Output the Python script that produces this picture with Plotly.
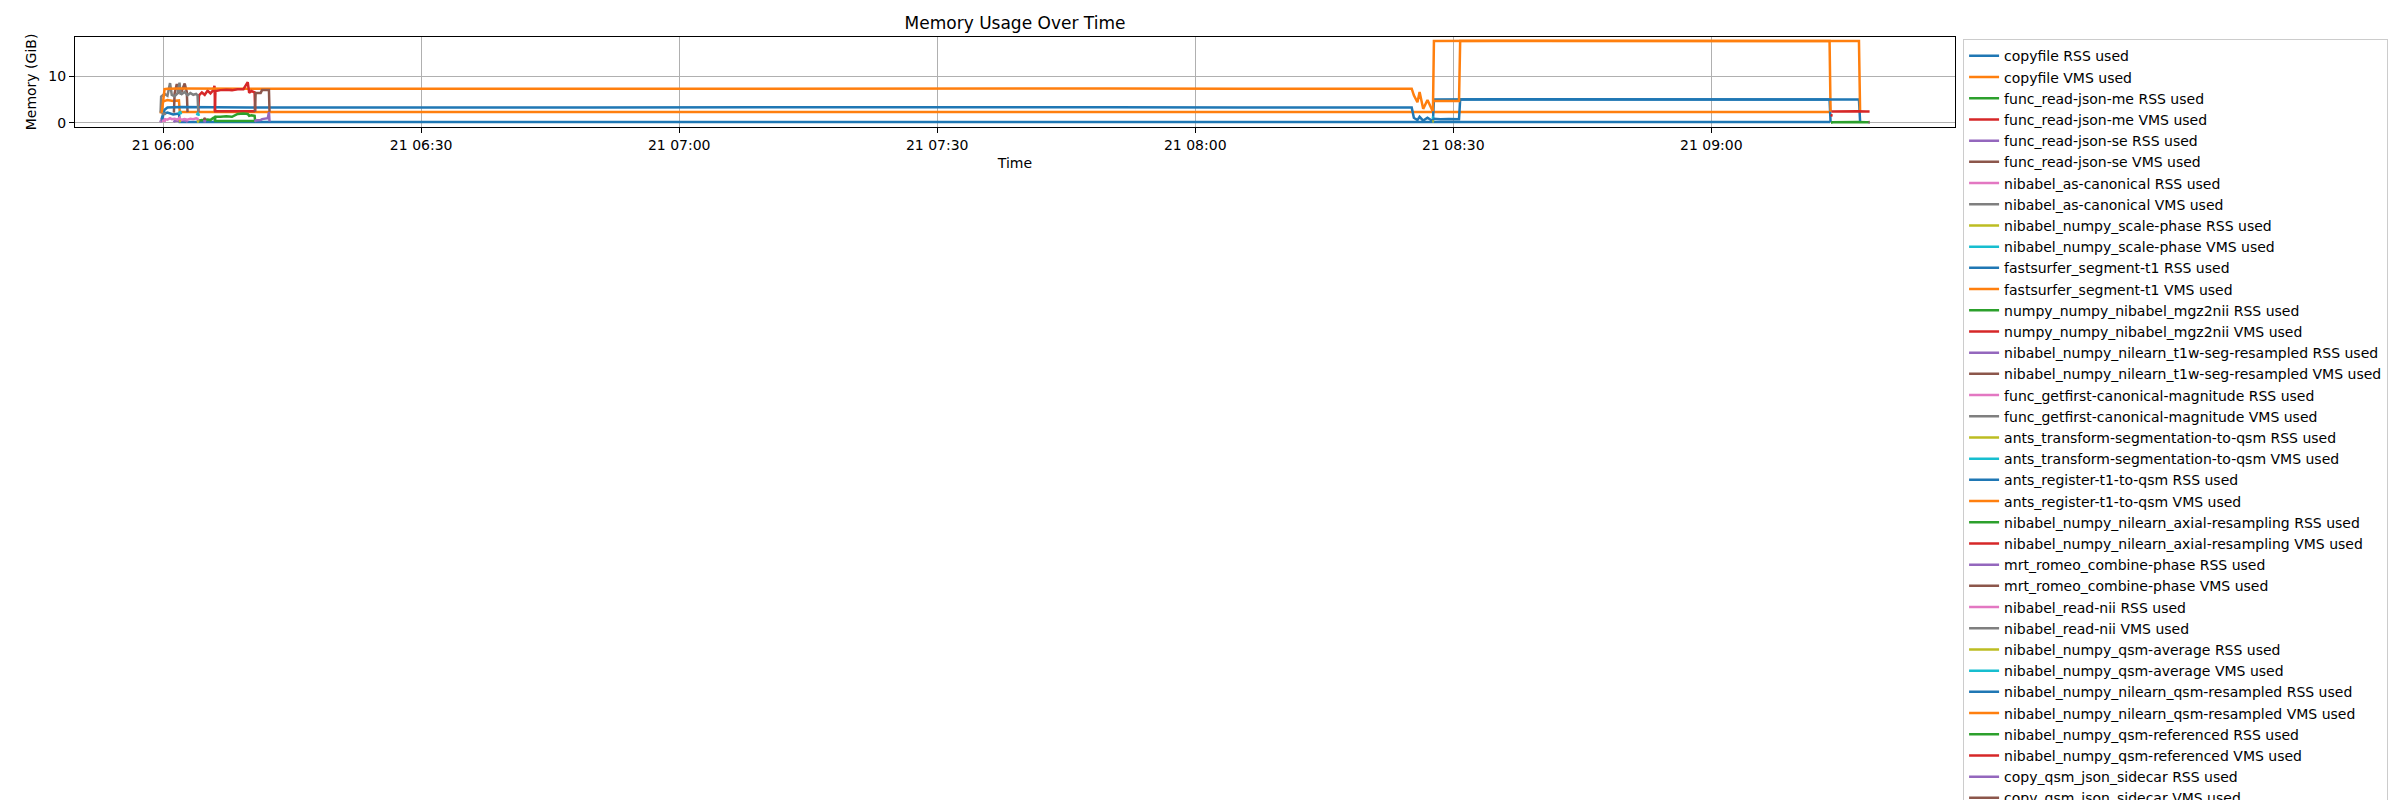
import plotly.graph_objects as go

day = "2023-11-21 "

# sample times and memory values (GiB) per task
copyfile_t = ["05:59:42", "06:00:00", "06:00:30", "06:01:10", "06:01:50", "06:01:56", "09:13:45", "09:13:50"]
copyfile_rss = [0.1, 1.9, 2.2, 1.8, 2.0, 0.2, 0.2, 0.1]
copyfile_vms = [2.0, 4.6, 4.9, 4.7, 4.8, 2.3, 2.3, 2.3]

json_me_t = ["06:04:05", "06:04:10", "06:04:30", "06:04:50", "06:05:10", "06:05:30", "06:05:50", "06:05:58", "06:06:03", "06:10:40"]
json_me_rss = [0.2, 0.5, 0.6, 0.5, 0.7, 0.6, 1.1, 1.2, 0.4, 0.4]
json_me_vms = [2.3, 5.9, 6.5, 6.0, 6.9, 6.3, 7.0, 7.9, 2.5, 2.5]

json_se_t = ["06:01:15", "06:01:20", "06:01:35", "06:01:50", "06:02:10", "06:02:30", "06:02:45", "06:02:50"]
json_se_rss = [0.1, 0.4, 0.5, 0.4, 0.6, 0.5, 0.4, 0.1]
json_se_vms = [2.2, 6.3, 8.3, 6.5, 6.8, 8.4, 6.6, 2.3]

canon_t = ["05:59:42", "05:59:46", "06:00:10", "06:00:30", "06:00:48", "06:01:00", "06:01:20", "06:01:40", "06:01:54", "06:02:03"]
canon_rss = [0.1, 0.6, 0.8, 0.7, 1.0, 0.8, 0.9, 0.7, 1.1, 0.6]
canon_vms = [2.2, 5.6, 6.2, 5.8, 8.5, 6.0, 5.7, 6.3, 8.6, 6.0]

scale_t = ["06:01:50", "06:01:58", "06:02:05"]
scale_rss = [0.3, 0.4, 0.3]
scale_vms = [1.9, 2.5, 1.8]

fastsurfer_t = ["05:59:50", "06:00:10", "06:00:30", "06:02:00", "06:10:00", "06:20:00", "06:35:00",
                "06:50:00", "07:05:00", "07:20:00", "07:35:00", "07:50:00", "08:05:00", "08:15:00",
                "08:25:10", "08:25:25", "08:25:50", "08:26:05", "08:26:30", "08:27:00", "08:27:35"]
fastsurfer_rss = [0.3, 2.8, 3.3, 3.4, 3.3, 3.35, 3.3, 3.3, 3.35, 3.3, 3.3, 3.35, 3.3, 3.3,
                  3.3, 1.1, 0.6, 1.3, 0.5, 1.1, 0.4]
fastsurfer_vms = [2.2, 7.2, 7.3, 7.35, 7.3, 7.35, 7.3, 7.3, 7.35, 7.3, 7.3, 7.35, 7.3, 7.3,
                  7.3, 5.9, 4.4, 6.6, 3.0, 4.9, 2.6]

mgz_t = ["06:06:00", "06:06:05", "06:06:40", "06:07:20", "06:08:00", "06:08:40", "06:09:20",
         "06:09:50", "06:10:00", "06:10:15", "06:10:38", "06:10:42"]
mgz_rss = [0.4, 1.3, 1.3, 1.4, 1.3, 1.9, 2.0, 1.9, 1.5, 1.6, 1.5, 0.3]
mgz_vms = [2.5, 6.8, 7.0, 7.1, 7.0, 7.2, 7.2, 8.7, 6.4, 6.8, 6.5, 2.4]

seg_t = ["06:10:40", "06:10:45", "06:11:20", "06:11:30", "06:12:10", "06:12:18", "06:12:22"]
seg_rss = [0.2, 0.5, 0.6, 0.8, 1.0, 2.3, 0.3]
seg_vms = [2.4, 6.4, 6.4, 7.0, 7.0, 7.0, 2.4]

getfirst_t = ["06:02:03", "06:02:30", "06:02:50", "06:03:10", "06:03:30", "06:03:50", "06:04:00", "06:04:05"]
getfirst_rss = [0.6, 0.8, 0.7, 0.9, 0.8, 1.0, 0.9, 0.3]
getfirst_vms = [6.0, 6.6, 5.9, 6.4, 6.0, 6.2, 5.9, 2.3]

transform_t = ["06:03:55", "06:04:02", "06:04:10"]
transform_rss = [0.2, 0.3, 0.2]
transform_vms = [1.6, 2.2, 1.5]

register_t = ["08:27:38", "08:27:45", "08:35:00", "08:45:00", "08:55:00", "09:05:00", "09:13:45", "09:13:52"]
register_rss = [0.3, 5.0, 5.05, 5.0, 5.0, 5.05, 5.0, 0.2]
register_vms = [2.5, 17.5, 17.55, 17.5, 17.5, 17.55, 17.5, 2.4]

axial_t = ["09:13:55", "09:14:00", "09:14:05"]
axial_rss = [0.1, 0.15, 0.1]
axial_vms = [1.4, 1.6, 1.5]

romeo_t = ["06:04:40", "06:04:50", "06:05:00"]
romeo_rss = [0.3, 0.4, 0.3]
romeo_vms = [0.8, 0.9, 0.8]

readnii_t = ["05:59:50", "06:00:05", "06:00:20"]
readnii_rss = [0.4, 0.5, 0.4]
readnii_vms = [1.8, 2.0, 1.9]

average_t = ["08:27:36", "08:27:39", "08:27:42"]
average_rss = [0.2, 0.3, 0.2]
average_vms = [0.9, 1.1, 1.0]

resampled_t = ["08:27:40", "08:28:30", "08:29:30", "08:30:40", "08:30:48", "08:40:00", "08:50:00",
               "09:00:00", "09:10:00", "09:17:10", "09:17:18"]
resampled_rss = [0.9, 0.8, 0.85, 0.8, 5.0, 5.0, 5.05, 5.0, 5.0, 5.0, 0.3]
resampled_vms = [4.7, 4.75, 4.7, 4.7, 17.5, 17.5, 17.55, 17.5, 17.5, 17.5, 2.4]

referenced_t = ["09:13:58", "09:15:00", "09:16:00", "09:17:00", "09:18:00", "09:18:24"]
referenced_rss = [0.15, 0.2, 0.15, 0.2, 0.15, 0.15]
referenced_vms = [2.45, 2.5, 2.45, 2.5, 2.45, 2.45]

sidecar_t = ["09:18:18", "09:18:21", "09:18:24"]
sidecar_rss = [0.05, 0.06, 0.05]
sidecar_vms = [0.2, 0.25, 0.2]

tasks = [
    ("copyfile", copyfile_t, copyfile_rss, copyfile_vms),
    ("func_read-json-me", json_me_t, json_me_rss, json_me_vms),
    ("func_read-json-se", json_se_t, json_se_rss, json_se_vms),
    ("nibabel_as-canonical", canon_t, canon_rss, canon_vms),
    ("nibabel_numpy_scale-phase", scale_t, scale_rss, scale_vms),
    ("fastsurfer_segment-t1", fastsurfer_t, fastsurfer_rss, fastsurfer_vms),
    ("numpy_numpy_nibabel_mgz2nii", mgz_t, mgz_rss, mgz_vms),
    ("nibabel_numpy_nilearn_t1w-seg-resampled", seg_t, seg_rss, seg_vms),
    ("func_getfirst-canonical-magnitude", getfirst_t, getfirst_rss, getfirst_vms),
    ("ants_transform-segmentation-to-qsm", transform_t, transform_rss, transform_vms),
    ("ants_register-t1-to-qsm", register_t, register_rss, register_vms),
    ("nibabel_numpy_nilearn_axial-resampling", axial_t, axial_rss, axial_vms),
    ("mrt_romeo_combine-phase", romeo_t, romeo_rss, romeo_vms),
    ("nibabel_read-nii", readnii_t, readnii_rss, readnii_vms),
    ("nibabel_numpy_qsm-average", average_t, average_rss, average_vms),
    ("nibabel_numpy_nilearn_qsm-resampled", resampled_t, resampled_rss, resampled_vms),
    ("nibabel_numpy_qsm-referenced", referenced_t, referenced_rss, referenced_vms),
    ("copy_qsm_json_sidecar", sidecar_t, sidecar_rss, sidecar_vms),
]

tab10 = ["#1f77b4", "#ff7f0e", "#2ca02c", "#d62728", "#9467bd",
         "#8c564b", "#e377c2", "#7f7f7f", "#bcbd22", "#17becf"]

fig = go.Figure()
i = 0
for name, t, rss, vms in tasks:
    x = [day + s for s in t]
    for kind, vals in (("RSS", rss), ("VMS", vms)):
        fig.add_trace(go.Scatter(
            x=x, y=vals, mode="lines", name=f"{name} {kind} used",
            line=dict(color=tab10[i % 10], width=2.5)))
        i += 1

# page body adds an 8px offset, so the figure is 8px smaller and shifted
font = dict(family="DejaVu Sans", size=14, color="black")
fig.update_layout(
    width=2392, height=792,
    plot_bgcolor="white", paper_bgcolor="white",
    font=font,
    margin=dict(l=67, r=445, t=29, b=673, autoexpand=False),
    title=dict(text="Memory Usage Over Time", x=0.5, xref="paper", xanchor="center",
               y=1 - 15 / 792, yref="container", yanchor="middle",
               font=dict(family="DejaVu Sans", size=17, color="black")),
    legend=dict(x=1.0043, xanchor="left", y=0.975, yanchor="top",
                bordercolor="#cccccc", borderwidth=1, bgcolor="white",
                font=font, maxheight=2000, tracegroupgap=0),
    showlegend=True,
)
fig.update_xaxes(
    title=dict(text="Time", font=font, standoff=6),
    type="date", range=[day + "05:49:45", day + "09:28:20"],
    tick0=day + "06:00:00", dtick=30 * 60 * 1000, tickformat="%d %H:%M",
    showgrid=True, gridcolor="#b0b0b0", gridwidth=1,
    showline=True, linecolor="black", linewidth=1, mirror=True, automargin=False,
    ticks="outside", ticklen=5, tickcolor="black", zeroline=False)
fig.update_yaxes(
    title=dict(text="Memory (GiB)", font=font, standoff=8),
    range=[-0.88, 18.35], tick0=0, dtick=10,
    showgrid=True, gridcolor="#b0b0b0", gridwidth=1,
    showline=True, linecolor="black", linewidth=1, mirror=True, automargin=False,
    ticks="outside", ticklen=5, tickcolor="black", zeroline=False)

fig.write_html("out.html")
